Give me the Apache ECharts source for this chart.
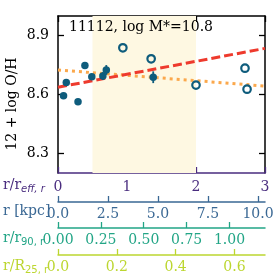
<!DOCTYPE html>
<html>
<head>
<meta charset="utf-8">
<script src="https://cdn.jsdelivr.net/npm/echarts@6/dist/echarts.min.js"></script>
<style>html,body{margin:0;padding:0;background:#fff}#c{width:277px;height:277px}</style>
</head>
<body>
<div id="c"></div>
<script>
// ---- data ----
const rReffFilled = [0.08, 0.12, 0.29, 0.39, 0.49, 0.65, 0.70, 1.38];
const ohFilled    = [8.594, 8.661, 8.563, 8.748, 8.691, 8.694, 8.725, 8.688];
const ohFilledErr = [0.01, 0.01, 0.01, 0.012, 0.01, 0.02, 0.025, 0.03];
const rReffOpen = [0.94, 1.35, 2.00, 2.71, 2.74];
const ohOpen    = [8.838, 8.782, 8.648, 8.734, 8.627];
const fitRedX = [0, 3];
const fitRedY = [8.637, 8.835];
const fitOrangeX = [0, 3];
const fitOrangeY = [8.725, 8.643];
const shadeRange = [0.5, 2.0];
const yTicks = [8.3, 8.6, 8.9];
const reffTicks = [0, 1, 2, 3];
const kpcTicks = [0, 2.5, 5.0, 7.5, 10.0];
const r90Ticks = [0, 0.25, 0.5, 0.75, 1.0];
const r25Ticks = [0, 0.2, 0.4, 0.6];
const titleText = '11112, log M*=10.8';

const SERIF = 'DejaVu Serif';
const cPurple = '#4a2d7f', cBlue = '#3a6894', cTeal = '#22a586', cLime = '#bcd630';
const cPt = '#0e5c7c';

const chart = echarts.init(document.getElementById('c'), null, {renderer: 'canvas'});

function secAxis(color, offset, max, ticks, dec) {
  return {
    type: 'value', gridIndex: 0, position: 'bottom', offset: offset,
    min: 0, max: max,
    axisLine: {show: true, onZero: false, lineStyle: {color: color, width: 1.5}},
    axisTick: {show: true, inside: true, length: 6, lineStyle: {color: color, width: 1.3}, customValues: ticks},
    axisLabel: {show: true, color: color, fontFamily: SERIF, fontSize: 14, margin: 5,
      customValues: ticks, formatter: v => Number(v).toFixed(dec)},
    splitLine: {show: false}
  };
}

const option = {
  animation: false,
  grid: {left: 58, top: 16, width: 207, height: 157, containLabel: false},
  xAxis: [
    {
      type: 'value', position: 'bottom', min: 0, max: 3, interval: 1,
      axisLine: {show: true, onZero: false, lineStyle: {color: cPurple, width: 1.5}},
      axisTick: {show: true, inside: true, length: 6, lineStyle: {color: cPurple, width: 1.3}, customValues: reffTicks},
      axisLabel: {color: cPurple, fontFamily: SERIF, fontSize: 14, margin: 7, customValues: reffTicks,
        formatter: v => String(v)},
      splitLine: {show: false}
    },
    {
      type: 'value', position: 'top', min: 0, max: 3, interval: 1,
      axisLine: {show: true, onZero: false, lineStyle: {color: '#000', width: 1.5}},
      axisTick: {show: true, inside: true, length: 6, lineStyle: {color: '#000', width: 1.3}},
      axisLabel: {show: false}, splitLine: {show: false}
    },
    secAxis(cBlue, 29, 10.35, kpcTicks, 1),
    secAxis(cTeal, 55, 1.207, r90Ticks, 2),
    secAxis(cLime, 82, 0.704, r25Ticks, 1)
  ],
  yAxis: [
    {
      type: 'value', position: 'left', min: 8.2, max: 9.0,
      axisLine: {show: true, onZero: false, lineStyle: {color: '#000', width: 1.5}},
      axisTick: {show: true, inside: true, length: 6, lineStyle: {color: '#000', width: 1.3}, customValues: yTicks},
      axisLabel: {color: '#000', fontFamily: SERIF, fontSize: 14, margin: 9, customValues: yTicks,
        formatter: v => Number(v).toFixed(1)},
      splitLine: {show: false}
    },
    {
      type: 'value', position: 'right', min: 8.2, max: 9.0,
      axisLine: {show: true, onZero: false, lineStyle: {color: '#000', width: 1.5}},
      axisTick: {show: true, inside: true, length: 6, lineStyle: {color: '#000', width: 1.3}, customValues: yTicks},
      axisLabel: {show: false}, splitLine: {show: false}
    }
  ],
  graphic: [
    {type: 'text', x: 12, y: 104, rotation: Math.PI / 2,
      style: {text: '12 + log O/H', font: '14px "' + SERIF + '"', fill: '#000', align: 'center', verticalAlign: 'middle'}},
    {type: 'text', x: 69, y: 27, z: 100,
      style: {text: titleText, font: '14px "' + SERIF + '"', fill: '#000', align: 'left', verticalAlign: 'middle'}},
    // secondary axis names
    {type: 'text', x: 3, y: 185, style: {text: 'r/r', font: '14px "' + SERIF + '"', fill: cPurple, verticalAlign: 'middle'}},
    {type: 'text', x: 21, y: 189, style: {text: 'eff, r', font: 'italic 10px "DejaVu Sans"', fill: cPurple, verticalAlign: 'middle'}},
    {type: 'text', x: 3, y: 211, style: {text: 'r [kpc]', font: '14px "' + SERIF + '"', fill: cBlue, verticalAlign: 'middle'}},
    {type: 'text', x: 3, y: 238, style: {text: 'r/r', font: '14px "' + SERIF + '"', fill: cTeal, verticalAlign: 'middle'}},
    {type: 'text', x: 21, y: 242, style: {text: '90, r', font: '10px "DejaVu Sans"', fill: cTeal, verticalAlign: 'middle'}},
    {type: 'text', x: 3, y: 266, style: {text: 'r/R', font: '14px "' + SERIF + '"', fill: cLime, verticalAlign: 'middle'}},
    {type: 'text', x: 25, y: 270, style: {text: '25, r', font: '10px "DejaVu Sans"', fill: cLime, verticalAlign: 'middle'}}
  ],
  series: [
    {
      type: 'line', xAxisIndex: 0, yAxisIndex: 0, data: [], silent: true,
      markArea: {silent: true, itemStyle: {color: '#fef8e2', opacity: 1},
        data: [[{xAxis: shadeRange[0]}, {xAxis: shadeRange[1]}]]}
    },
    {
      type: 'line', xAxisIndex: 0, yAxisIndex: 0, symbol: 'none', silent: true, z: 3,
      data: fitOrangeX.map((x, i) => [x, fitOrangeY[i]]),
      lineStyle: {color: '#fba84c', width: 3, type: [3, 4], cap: 'butt'}
    },
    {
      type: 'line', xAxisIndex: 0, yAxisIndex: 0, symbol: 'none', silent: true, z: 3,
      data: fitRedX.map((x, i) => [x, fitRedY[i]]),
      lineStyle: {color: '#ee3a2d', width: 3, type: [9, 4], cap: 'butt'}
    },
    {
      type: 'custom', xAxisIndex: 0, yAxisIndex: 0, z: 4, silent: true,
      data: rReffFilled.map((x, i) => [x, ohFilled[i], ohFilledErr[i]]),
      renderItem: function (params, api) {
        const x = api.value(0), y = api.value(1), e = api.value(2);
        const p1 = api.coord([x, y - e]), p2 = api.coord([x, y + e]);
        return {type: 'line', shape: {x1: p1[0], y1: p1[1], x2: p2[0], y2: p2[1]},
          style: {stroke: cPt, lineWidth: 1.8}};
      }
    },
    {
      type: 'scatter', xAxisIndex: 0, yAxisIndex: 0, z: 5, symbol: 'circle', symbolSize: 7.5,
      data: rReffFilled.map((x, i) => [x, ohFilled[i]]),
      itemStyle: {color: cPt, opacity: 1}
    },
    {
      type: 'scatter', xAxisIndex: 0, yAxisIndex: 0, z: 5, symbol: 'circle', symbolSize: 7.5,
      data: rReffOpen.map((x, i) => [x, ohOpen[i]]),
      itemStyle: {color: 'rgba(0,0,0,0)', borderColor: cPt, borderWidth: 2.2, opacity: 1}
    }
  ]
};
chart.setOption(option);
</script>
</body>
</html>
